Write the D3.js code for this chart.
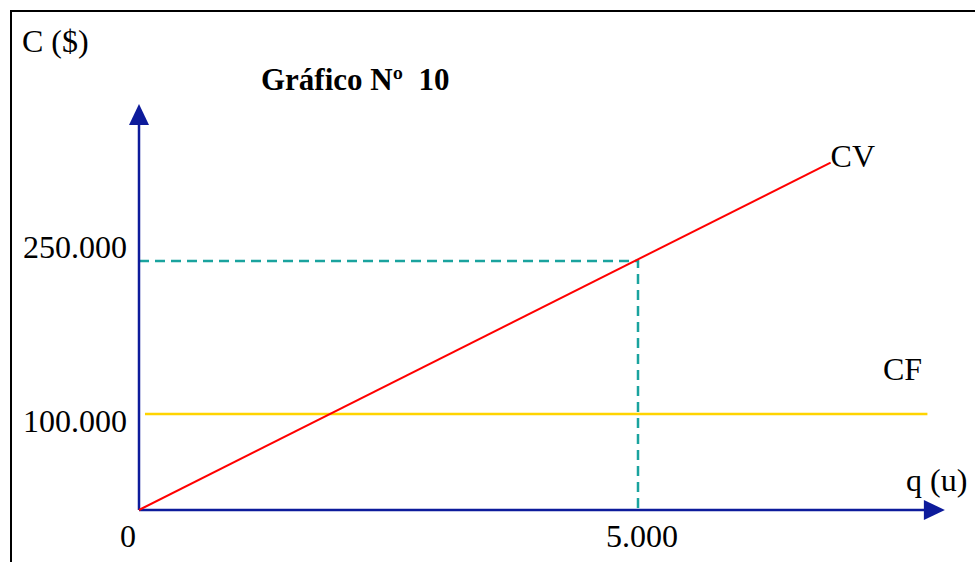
<!DOCTYPE html>
<html><head><meta charset="utf-8">
<script src="https://cdn.jsdelivr.net/npm/d3@7"></script>
<style>html,body{margin:0;padding:0;background:#fff;}svg{display:block;}text{white-space:pre;}</style>
</head><body>
<svg id="c" width="975" height="562"></svg>
<script>
// ---- data ----
const title = "Gráfico Nº  10";
const yAxisLabel = "C ($)";
const xAxisLabel = "q (u)";
const xTicks = [0, 5000];
const xTickLabels = ["0", "5.000"];
const yTicks = [100000, 250000];
const yTickLabels = ["100.000", "250.000"];
const cvQ = [0, 6930];          // variable cost line
const cvC = [0, 346500];
const cfQ = [60, 7900];         // fixed cost line
const cfC = [100000, 100000];
const refQ = [0, 5000, 5000];   // dashed guide through (5000, 250000)
const refC = [250000, 250000, 0];
const axisMaxQ = 8075;
const axisMaxC = 404000;

const svg = d3.select("#c");
const x = d3.scaleLinear().domain([0, 5000]).range([139, 638]);
const y = d3.scaleLinear().domain([0, 100000, 250000]).range([510, 414, 261]);
const font = "'Liberation Serif','Times New Roman',serif";
const axisCol = "#0d1b9b";

// frame
svg.append("rect").attr("x", 11).attr("y", 11).attr("width", 1100).attr("height", 700)
  .attr("fill", "none").attr("stroke", "#000").attr("stroke-width", 2);

const line = d3.line().x(d => x(d[0])).y(d => y(d[1]));

// dashed guides
svg.append("path").attr("d", line(refQ.map((q, i) => [q, refC[i]])))
  .attr("fill", "none").attr("stroke", "#1aa39e").attr("stroke-width", 2.5)
  .attr("stroke-dasharray", "10,6");

// CF line
svg.append("path").attr("d", line(cfQ.map((q, i) => [q, cfC[i]])))
  .attr("fill", "none").attr("stroke", "#ffd400").attr("stroke-width", 2.5);

// axes
svg.append("line").attr("x1", x(0)).attr("y1", y(0)).attr("x2", x(0)).attr("y2", y(axisMaxC) + 20)
  .attr("stroke", axisCol).attr("stroke-width", 2.5);
svg.append("path").attr("fill", axisCol)
  .attr("d", `M${x(0)},${y(axisMaxC)} L${x(0) - 10},${y(axisMaxC) + 21} L${x(0) + 10},${y(axisMaxC) + 21} Z`);
svg.append("line").attr("x1", x(0)).attr("y1", y(0)).attr("x2", x(axisMaxQ) - 20).attr("y2", y(0))
  .attr("stroke", axisCol).attr("stroke-width", 2.5);
svg.append("path").attr("fill", axisCol)
  .attr("d", `M${x(axisMaxQ)},${y(0)} L${x(axisMaxQ) - 21},${y(0) - 10} L${x(axisMaxQ) - 21},${y(0) + 10} Z`);

// CV line
svg.append("path").attr("d", line(cvQ.map((q, i) => [q, cvC[i]])))
  .attr("fill", "none").attr("stroke", "#ff0000").attr("stroke-width", 2);

// texts
const txt = (t, px, py, opts = {}) => svg.append("text").text(t)
  .attr("x", px).attr("y", py).attr("font-family", font)
  .attr("font-size", opts.size || 32).attr("font-weight", opts.weight || "normal")
  .attr("text-anchor", opts.anchor || "start").attr("fill", "#000")
  .attr("xml:space", "preserve");

txt(title, 261, 90, { size: 31, weight: "bold" });
txt(yAxisLabel, 22, 52);
txt(xAxisLabel, 906, 491);
txt("CV", x(cvQ[1]), y(cvC[1]) + 4);
txt("CF", 883, 380);

yTicks.forEach((v, i) => txt(yTickLabels[i], 127, y(v) + (i === 0 ? 18 : -3), { anchor: "end" }));
xTicks.forEach((v, i) => txt(xTickLabels[i], x(v) + (i === 0 ? -11 : 4), 547, { anchor: "middle" }));
</script>
</body></html>
